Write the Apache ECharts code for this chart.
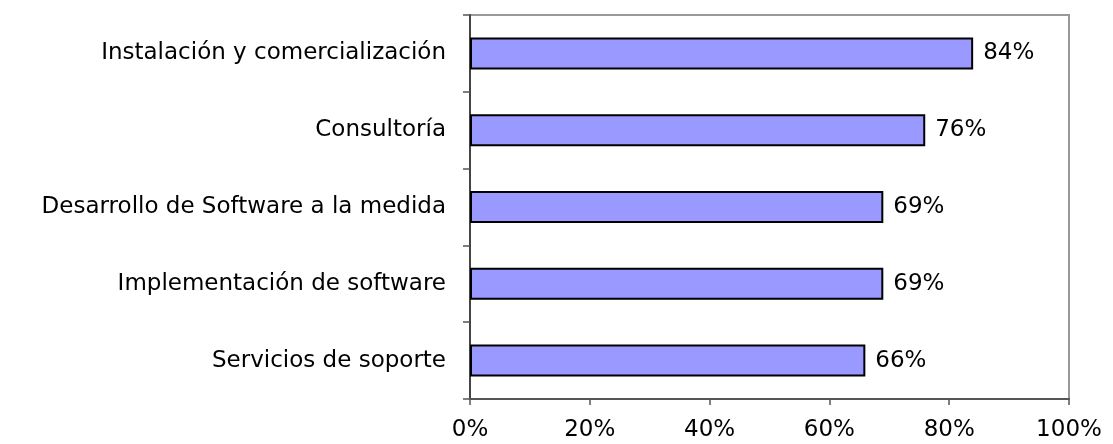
<!DOCTYPE html>
<html>
<head>
<meta charset="utf-8">
<script src="https://cdn.jsdelivr.net/npm/echarts@6/dist/echarts.min.js"></script>
<style>
html,body{margin:0;padding:0;background:#fff;}
#bar{width:1113px;height:444px;}
</style>
</head>
<body>
<div id="bar"></div>
<script>
var categorias = ['Instalación y comercialización', 'Consultoría', 'Desarrollo de Software a la medida', 'Implementación de software', 'Servicios de soporte'];
var valores = [84, 76, 69, 69, 66];
var ticksX = [0, 20, 40, 60, 80, 100];

//barras horizontales
var bar = echarts.init(document.getElementById('bar'));
var fuente = 'DejaVu Sans';
var option = {
    animation: false,
    grid: {
        left: 470,
        right: 44,
        top: 15,
        bottom: 45,
        show: true,
        borderColor: '#999',
        borderWidth: 2
    },
    xAxis: {
        type: 'value',
        min: ticksX[0],
        max: ticksX[ticksX.length - 1],
        interval: 20,
        axisLine: {show: true, lineStyle: {color: '#555', width: 2}},
        axisTick: {show: true, length: 6, lineStyle: {color: '#555', width: 1.5}},
        splitLine: {show: false},
        axisLabel: {
            formatter: '{value}%',
            color: '#000',
            fontFamily: fuente,
            fontSize: 23,
            margin: 20
        }
    },
    yAxis: {
        type: 'category',
        inverse: true,
        data: categorias,
        axisLine: {show: true, lineStyle: {color: '#444', width: 2}},
        axisTick: {show: true, length: 7, lineStyle: {color: '#555', width: 1.5}},
        axisLabel: {
            color: '#000',
            fontFamily: fuente,
            fontSize: 23,
            margin: 24
        }
    },
    series: [
        {
            type: 'bar',
            data: valores,
            barWidth: 32,
            itemStyle: {
                color: '#9999FF',
                borderColor: '#000',
                borderWidth: 2
            },
            label: {
                show: true,
                position: 'right',
                distance: 10,
                formatter: '{c}%',
                color: '#000',
                fontFamily: fuente,
                fontSize: 23
            }
        }
    ]
};
bar.setOption(option);
</script>
</body>
</html>
